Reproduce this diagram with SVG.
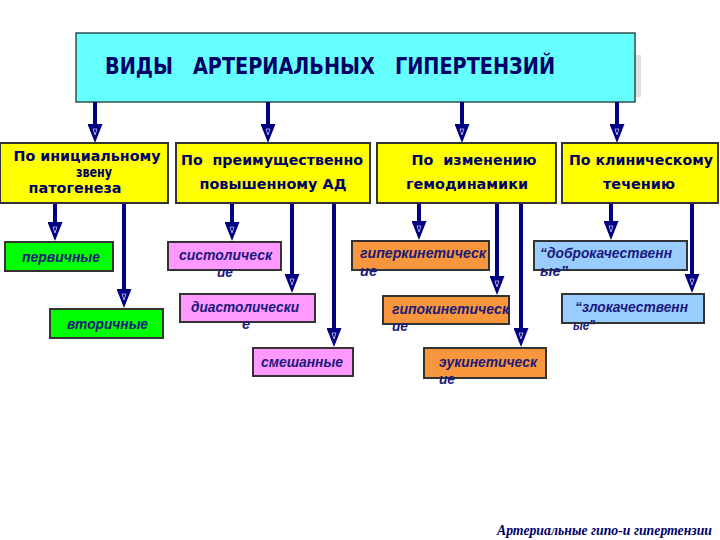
<svg xmlns="http://www.w3.org/2000/svg" width="720" height="540" viewBox="0 0 720 540">
<style>
.hd{font-family:"DejaVu Sans","Liberation Sans",sans-serif;font-weight:bold;fill:#000066}
.yb{fill:#ffff00;stroke:#333;stroke-width:2}
.lb{font-family:"Liberation Sans",Arial,sans-serif;font-weight:bold;font-style:italic;font-size:14.5px;fill:#1a1a7a}
.gr{fill:#00ff00;stroke:#333;stroke-width:2}
.pk{fill:#ff99ff;stroke:#333;stroke-width:2}
.or{fill:#f7963c;stroke:#333;stroke-width:2}
.bl{fill:#99ccff;stroke:#333;stroke-width:2}
.cn{stroke:#000080;stroke-width:4;fill:none;marker-end:url(#ar)}
</style>
<defs>
<marker id="ar" markerUnits="userSpaceOnUse" viewBox="0 0 19 15" markerWidth="19" markerHeight="15" refX="11" refY="7.5" orient="auto">
<path d="M0,0 L19,7.5 L0,15 Z" fill="#000080"/>
<path d="M5,5.5 L11,7.5 L5,9.5 Z" fill="none" stroke="#ccccff" stroke-width="0.8"/>
</marker>
</defs>
<rect width="720" height="540" fill="#ffffff"/>

<g id="title">
<rect x="635" y="55" width="6" height="42" fill="#e0e0e0"/>
<rect x="76" y="33" width="559" height="69" fill="#66ffff" stroke="#2f4f4f" stroke-width="1.5"/>
<text class="hd" x="330" y="74" font-size="23" text-anchor="middle" textLength="450" lengthAdjust="spacingAndGlyphs" xml:space="preserve">ВИДЫ   АРТЕРИАЛЬНЫХ   ГИПЕРТЕНЗИЙ</text>
</g>

<g id="connectors">
<line class="cn" x1="95" y1="102" x2="95" y2="135"/>
<line class="cn" x1="268" y1="102" x2="268" y2="135"/>
<line class="cn" x1="462" y1="102" x2="462" y2="135"/>
<line class="cn" x1="617" y1="102" x2="617" y2="135"/>
<line class="cn" x1="55" y1="203" x2="55" y2="233"/>
<line class="cn" x1="124" y1="203" x2="124" y2="300"/>
<line class="cn" x1="232" y1="203" x2="232" y2="233"/>
<line class="cn" x1="292" y1="203" x2="292" y2="285"/>
<line class="cn" x1="334" y1="203" x2="334" y2="339"/>
<line class="cn" x1="419" y1="203" x2="419" y2="232"/>
<line class="cn" x1="497" y1="203" x2="497" y2="287"/>
<line class="cn" x1="521" y1="203" x2="521" y2="339"/>
<line class="cn" x1="611" y1="203" x2="611" y2="232"/>
<line class="cn" x1="692" y1="202" x2="692" y2="285"/>
</g>

<g id="cat1">
<rect class="yb" x="0" y="143" width="168" height="60"/>
<text class="hd" x="87" y="161" font-size="13.5" text-anchor="middle" textLength="147" lengthAdjust="spacingAndGlyphs">По инициальному</text>
<text class="hd" x="94" y="177" font-size="13.5" text-anchor="middle" textLength="36" lengthAdjust="spacingAndGlyphs">звену</text>
<text class="hd" x="75" y="193" font-size="13.5" text-anchor="middle" textLength="93" lengthAdjust="spacingAndGlyphs">патогенеза</text>
</g>
<g id="cat2">
<rect class="yb" x="176" y="143" width="194" height="60"/>
<text class="hd" x="272" y="165" font-size="14" text-anchor="middle" textLength="182" lengthAdjust="spacingAndGlyphs" xml:space="preserve">По  преимущественно</text>
<text class="hd" x="273" y="189" font-size="14" text-anchor="middle" textLength="147" lengthAdjust="spacingAndGlyphs">повышенному АД</text>
</g>
<g id="cat3">
<rect class="yb" x="377" y="143" width="179" height="60"/>
<text class="hd" x="474" y="165" font-size="14" text-anchor="middle" textLength="125" lengthAdjust="spacingAndGlyphs" xml:space="preserve">По  изменению</text>
<text class="hd" x="467" y="189" font-size="14" text-anchor="middle" textLength="122" lengthAdjust="spacingAndGlyphs">гемодинамики</text>
</g>
<g id="cat4">
<rect class="yb" x="562" y="143" width="156" height="60"/>
<text class="hd" x="641" y="165" font-size="14" text-anchor="middle" textLength="144" lengthAdjust="spacingAndGlyphs">По клиническому</text>
<text class="hd" x="639" y="189" font-size="14" text-anchor="middle" textLength="72" lengthAdjust="spacingAndGlyphs">течению</text>
</g>

<g id="primary">
<rect class="gr" x="5" y="242" width="108" height="29"/>
<text class="lb" x="22" y="262" textLength="78" lengthAdjust="spacingAndGlyphs">первичные</text>
</g>
<g id="secondary">
<rect class="gr" x="50" y="309" width="113" height="29"/>
<text class="lb" x="67" y="329" textLength="81" lengthAdjust="spacingAndGlyphs">вторичные</text>
</g>

<g id="systolic">
<rect class="pk" x="168" y="242" width="113" height="28"/>
<text class="lb" x="179" y="260" textLength="93" lengthAdjust="spacingAndGlyphs">систолическ</text>
<text class="lb" x="217" y="277" textLength="16" lengthAdjust="spacingAndGlyphs">ие</text>
</g>
<g id="diastolic">
<rect class="pk" x="180" y="294" width="135" height="28"/>
<text class="lb" x="191" y="312" textLength="108" lengthAdjust="spacingAndGlyphs">диастолически</text>
<text class="lb" x="242" y="329">е</text>
</g>
<g id="mixed">
<rect class="pk" x="253" y="348" width="100" height="28"/>
<text class="lb" x="261" y="367" textLength="82" lengthAdjust="spacingAndGlyphs">смешанные</text>
</g>

<g id="hyperkinetic">
<rect class="or" x="352" y="241" width="137" height="29"/>
<text class="lb" x="360" y="258" textLength="126" lengthAdjust="spacingAndGlyphs">гиперкинетическ</text>
<text class="lb" x="360" y="276" textLength="17" lengthAdjust="spacingAndGlyphs">ие</text>
</g>
<g id="hypokinetic">
<rect class="or" x="383" y="296" width="126" height="28"/>
<text class="lb" x="392" y="314" textLength="117" lengthAdjust="spacingAndGlyphs">гипокинетическ</text>
<text class="lb" x="392" y="331" textLength="16" lengthAdjust="spacingAndGlyphs">ие</text>
</g>
<g id="eukinetic">
<rect class="or" x="424" y="348" width="122" height="30"/>
<text class="lb" x="439" y="367" textLength="98" lengthAdjust="spacingAndGlyphs">эукинетическ</text>
<text class="lb" x="439" y="384" textLength="16" lengthAdjust="spacingAndGlyphs">ие</text>
</g>

<g id="benign">
<rect class="bl" x="534" y="241" width="153" height="29"/>
<text class="lb" x="540" y="258" textLength="132" lengthAdjust="spacingAndGlyphs">“доброкачественн</text>
<text class="lb" x="540" y="276" textLength="28" lengthAdjust="spacingAndGlyphs">ые”</text>
</g>
<g id="malignant">
<rect class="bl" x="562" y="294" width="142" height="29"/>
<text class="lb" x="575" y="312" textLength="113" lengthAdjust="spacingAndGlyphs">“злокачественн</text>
<text class="lb" x="573" y="330" textLength="22" lengthAdjust="spacingAndGlyphs">ые”</text>
</g>

<text x="497" y="535" font-family="Liberation Serif,'Times New Roman',serif" font-weight="bold" font-style="italic" font-size="14" fill="#000066" textLength="215" lengthAdjust="spacingAndGlyphs">Артериальные гипо-и гипертензии</text>
</svg>
